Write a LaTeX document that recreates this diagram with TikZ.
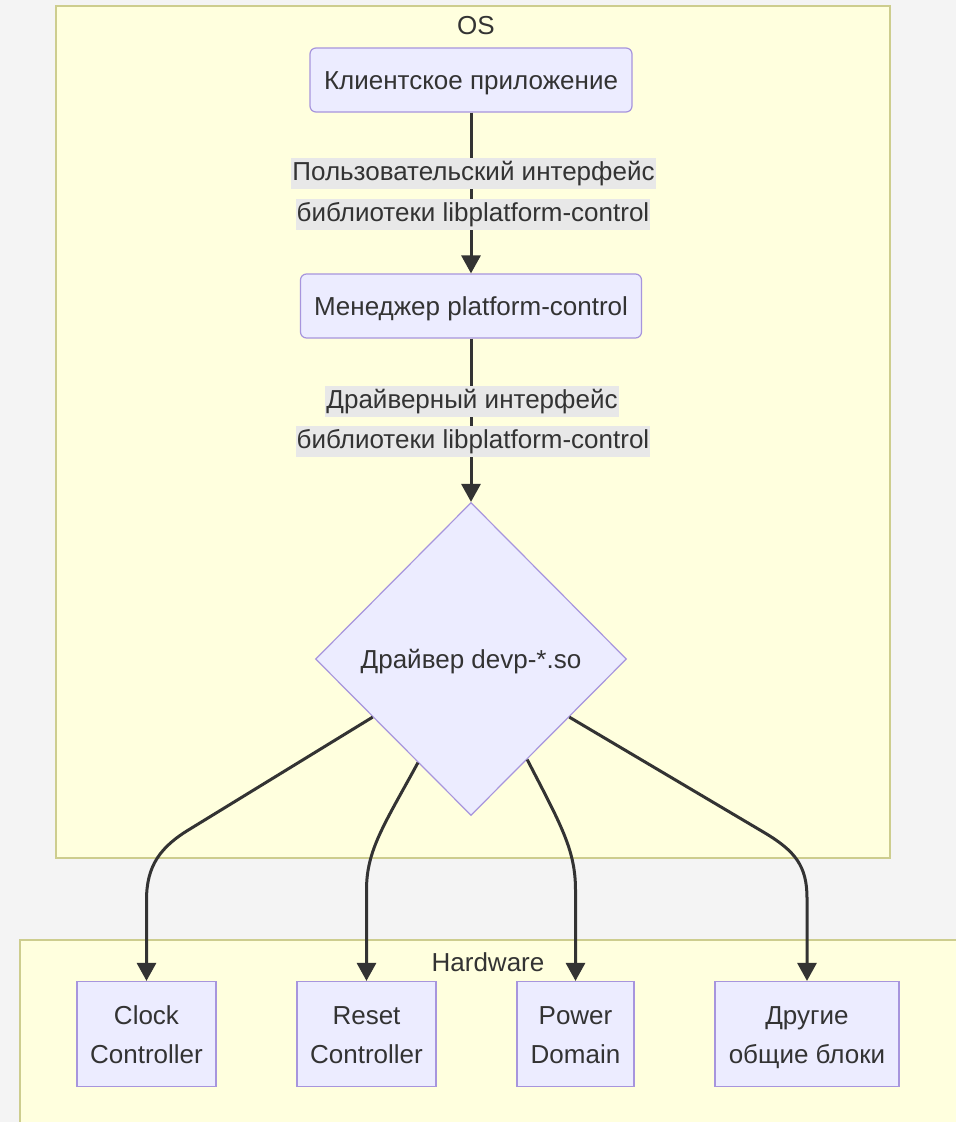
\documentclass[tikz,border=0pt]{standalone}
\usepackage{fontspec}
\setmainfont{Liberation Sans}
\usetikzlibrary{shapes.geometric,arrows.meta,calc}
\definecolor{pagebg}{HTML}{F4F4F4}
\definecolor{clfill}{HTML}{FFFFDE}
\definecolor{clline}{HTML}{CDCD8E}
\definecolor{ndfill}{HTML}{ECECFF}
\definecolor{ndline}{HTML}{A795DD}
\definecolor{ink}{HTML}{333333}
\definecolor{lblbg}{HTML}{E8E8E8}
% first-line strut for the two-line hardware blocks
\newcommand\hwtop{\rule{0pt}{31.3pt}}
\begin{document}
\begin{tikzpicture}[x=1pt,y=-1pt,
  txt/.style={font=\fontsize{26}{39}\selectfont, text=ink},
  oneline/.style={txt, text height=21pt, text depth=3pt},
  cluster/.style={fill=clfill, draw=clline, line width=1.5pt},
  proc/.style={oneline, draw=ndline, fill=ndfill, line width=1.2pt, rounded corners=6pt,
    minimum height=64pt, inner sep=0pt},
  hwbox/.style={txt, draw=ndline, fill=ndfill, line width=1.2pt, minimum height=105pt,
    inner sep=0pt, align=center},
  decision/.style={oneline, diamond, draw=ndline, fill=ndfill, line width=1.2pt,
    minimum width=311pt, minimum height=313pt, inner sep=0pt},
  edgelbl/.style={txt, text height=19pt, text depth=5pt, fill=lblbg, inner sep=0pt,
    inner xsep=1pt, minimum height=31pt},
  flow/.style={draw=ink, line width=3pt, -{Triangle[length=18pt,width=19pt]}},
]
\useasboundingbox (0,0) rectangle (956,1122);
\fill[pagebg] (0,0) rectangle (956,1122);

% clusters
\draw[cluster] (56,6) rectangle (890,858);
\fill[clfill] (20,940) rectangle (956,1122);
\draw[clline, line width=1.5pt] (20,1122) -- (20,940) -- (956,940);
\node[oneline] (osT) at (476,25) {OS};
\node[oneline] (hwT) at (488,962) {Hardware};

% OS side
\node[proc, minimum width=322pt] (app) at (471,80) {Клиентское приложение};
\node[proc, minimum width=341pt] (mgr) at (471,306) {Менеджер platform-control};
\node[decision] (drv) at (471,659) {Драйвер devp-*.so};

% hardware blocks
\node[hwbox, minimum width=139pt] (clk) at (146.5,1034) {\hwtop Clock\\\strut Controller};
\node[hwbox, minimum width=139pt] (rst) at (366.5,1034) {\hwtop Reset\\\strut Controller};
\node[hwbox, minimum width=117pt] (pwr) at (575.5,1034) {\hwtop Power\\\strut Domain};
\node[hwbox, minimum width=184pt] (oth) at (807,1034) {\hwtop Другие\\\strut общие блоки};

% connectors
\draw[flow] (app.south) -- (mgr.north);
\draw[flow] (mgr.south) -- (drv.north);
\draw[flow] ($(drv.west)!0.37!(drv.south)$) -- (190,829)
  .. controls (160,847) and (146.5,866) .. (146.5,900) -- (clk.north);
\draw[flow] ($(drv.west)!0.66!(drv.south)$)
  .. controls (384,825) and (366.5,850) .. (366.5,890) -- (rst.north);
\draw[flow] ($(drv.east)!0.64!(drv.south)$)
  .. controls (561,825) and (575.5,850) .. (575.5,890) -- (pwr.north);
\draw[flow] ($(drv.east)!0.37!(drv.south)$) -- (765,833)
  .. controls (795,851) and (807,866) .. (807,898) -- (oth.north);

% edge labels
\node[edgelbl] (l1a) at (473.5,173.5) {Пользовательский интерфейс};
\node[edgelbl] (l1b) at (473,214.5) {библиотеки libplatform-control};
\node[edgelbl] (l2a) at (472,401.5) {Драйверный интерфейс};
\node[edgelbl] (l2b) at (473,441.5) {библиотеки libplatform-control};
\end{tikzpicture}
\end{document}
